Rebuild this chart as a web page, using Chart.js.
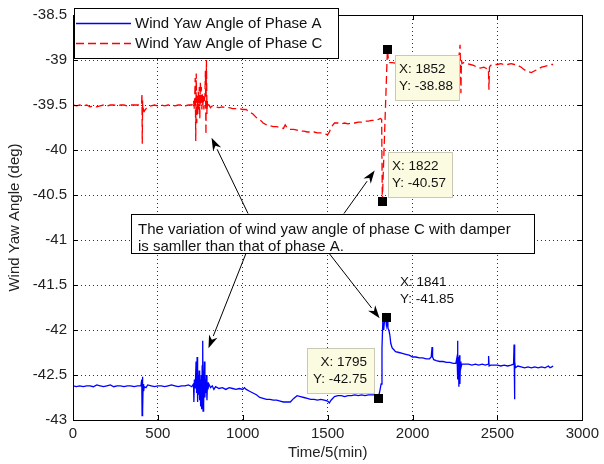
<!DOCTYPE html>
<html>
<head>
<meta charset="utf-8">
<script src="https://cdn.jsdelivr.net/npm/chart.js@4.4.1/dist/chart.umd.min.js"></script>
<style>
html,body{margin:0;padding:0;background:#fff;}
#wrap{width:604px;height:464px;}
</style>
</head>
<body>
<div id="wrap"><canvas id="c" width="604" height="464"></canvas></div>
<script>
// ---------- DATA ----------
const seriesNames = ['Wind Yaw Angle of Phase A', 'Wind Yaw Angle of Phase C'];
const xTicks = [0, 500, 1000, 1500, 2000, 2500, 3000];
const yTicks = [-43, -42.5, -42, -41.5, -41, -40.5, -40, -39.5, -39, -38.5];

const timeA = [0,20,40,60,80,100,120,140,160,180,200,220,240,260,280,300,320,340,360,380,400,405,407,409,411,413,416,420,430,440,460,480,500,520,540,560,580,600,620,640,660,680,700,710,712,715,720,725,728,731,734,737,740,743,746,749,752,755,758,761,764,766,768,771,774,777,780,783,786,789,792,795,800,810,820,830,840,860,880,900,920,940,960,980,1000,1010,1020,1040,1060,1080,1100,1120,1140,1160,1180,1200,1220,1240,1260,1280,1300,1320,1340,1360,1380,1400,1420,1440,1460,1480,1500,1510,1520,1540,1560,1580,1600,1620,1640,1660,1680,1700,1720,1740,1760,1780,1795,1805,1815,1820,1825,1830,1835,1841,1846,1850,1855,1860,1866,1872,1880,1890,1900,1920,1940,1960,1980,2000,2020,2040,2060,2080,2100,2110,2115,2118,2125,2140,2160,2180,2200,2220,2240,2255,2262,2265,2267,2270,2273,2276,2279,2282,2285,2290,2310,2330,2350,2370,2390,2410,2430,2445,2448,2451,2460,2480,2500,2520,2540,2560,2580,2595,2598,2600,2603,2606,2620,2640,2660,2680,2700,2720,2740,2760,2780,2800,2810,2820,2828];
const angleA = [-42.62,-42.63,-42.62,-42.63,-42.62,-42.62,-42.63,-42.61,-42.62,-42.63,-42.62,-42.61,-42.63,-42.62,-42.62,-42.63,-42.62,-42.62,-42.63,-42.62,-42.62,-42.55,-42.95,-42.52,-42.9,-42.6,-42.68,-42.63,-42.64,-42.61,-42.62,-42.63,-42.62,-42.62,-42.63,-42.62,-42.61,-42.62,-42.63,-42.62,-42.62,-42.61,-42.63,-42.6,-42.8,-42.55,-42.65,-42.35,-42.7,-42.3,-42.8,-42.5,-42.72,-42.45,-42.78,-42.55,-42.85,-42.5,-42.88,-42.4,-42.12,-42.9,-42.45,-42.82,-42.35,-42.75,-42.55,-42.7,-42.5,-42.78,-42.58,-42.66,-42.6,-42.64,-42.62,-42.66,-42.63,-42.65,-42.64,-42.66,-42.64,-42.65,-42.66,-42.65,-42.66,-42.64,-42.66,-42.68,-42.7,-42.72,-42.75,-42.76,-42.77,-42.77,-42.78,-42.78,-42.79,-42.8,-42.8,-42.8,-42.76,-42.73,-42.74,-42.75,-42.76,-42.77,-42.77,-42.78,-42.77,-42.78,-42.79,-42.81,-42.78,-42.74,-42.73,-42.73,-42.74,-42.73,-42.73,-42.72,-42.73,-42.72,-42.73,-42.72,-42.72,-42.72,-42.75,-42.7,-42.6,-42.2,-41.9,-42.0,-41.9,-41.85,-41.95,-41.9,-41.98,-42.0,-42.05,-42.15,-42.2,-42.22,-42.24,-42.25,-42.26,-42.27,-42.28,-42.3,-42.3,-42.31,-42.31,-42.32,-42.32,-42.3,-42.19,-42.3,-42.33,-42.34,-42.35,-42.35,-42.36,-42.36,-42.37,-42.37,-42.3,-42.12,-42.55,-42.3,-42.63,-42.28,-42.6,-42.35,-42.42,-42.38,-42.38,-42.38,-42.39,-42.38,-42.39,-42.38,-42.39,-42.38,-42.29,-42.4,-42.39,-42.39,-42.39,-42.4,-42.39,-42.4,-42.39,-42.38,-42.16,-42.77,-42.35,-42.42,-42.4,-42.41,-42.42,-42.41,-42.42,-42.41,-42.42,-42.41,-42.42,-42.4,-42.42,-42.41,-42.4];

const timeC = [0,20,40,60,80,100,120,140,160,180,200,220,240,260,280,300,320,340,360,380,400,404,406,408,410,412,416,420,430,440,460,480,500,520,540,560,580,600,620,640,660,680,700,705,710,715,720,723,726,729,732,735,738,741,744,747,750,753,756,759,762,765,768,771,774,777,780,783,786,789,792,795,800,810,820,840,860,880,900,920,940,960,980,1000,1020,1040,1060,1080,1100,1120,1140,1160,1180,1200,1220,1240,1250,1260,1280,1300,1320,1340,1360,1380,1400,1420,1440,1460,1480,1500,1510,1520,1540,1560,1580,1600,1620,1640,1660,1680,1700,1720,1740,1760,1780,1800,1810,1818,1822,1852,1858,1865,1880,1920,1980,2040,2100,2160,2220,2260,2270,2280,2285,2288,2291,2300,2320,2340,2360,2380,2400,2420,2440,2447,2450,2453,2460,2480,2500,2520,2540,2560,2580,2600,2620,2640,2660,2680,2700,2720,2740,2760,2780,2800,2820,2828];
const angleC = [-39.5,-39.51,-39.5,-39.51,-39.5,-39.52,-39.51,-39.52,-39.51,-39.5,-39.51,-39.5,-39.5,-39.51,-39.5,-39.5,-39.51,-39.5,-39.5,-39.5,-39.5,-39.5,-39.37,-39.93,-39.45,-39.6,-39.55,-39.57,-39.54,-39.52,-39.51,-39.5,-39.51,-39.5,-39.51,-39.5,-39.5,-39.51,-39.5,-39.5,-39.51,-39.5,-39.5,-39.48,-39.45,-39.55,-39.2,-39.9,-39.15,-39.7,-39.4,-39.6,-39.35,-39.55,-39.3,-39.65,-39.25,-39.5,-39.3,-39.55,-39.38,-39.5,-39.4,-39.55,-39.45,-39.4,-39.12,-39.83,-39.0,-39.6,-39.45,-39.5,-39.5,-39.53,-39.51,-39.52,-39.53,-39.52,-39.53,-39.53,-39.54,-39.54,-39.54,-39.55,-39.55,-39.58,-39.6,-39.64,-39.66,-39.7,-39.72,-39.73,-39.74,-39.74,-39.75,-39.76,-39.72,-39.75,-39.77,-39.77,-39.78,-39.79,-39.79,-39.8,-39.8,-39.8,-39.81,-39.81,-39.82,-39.83,-39.8,-39.75,-39.7,-39.7,-39.71,-39.7,-39.71,-39.7,-39.7,-39.69,-39.69,-39.68,-39.68,-39.67,-39.67,-39.66,-39.65,-39.66,-40.57,-38.88,-39.0,-39.03,-39.03,-39.04,-39.03,-39.04,-39.03,-39.04,-39.03,-39.02,-39.03,-38.83,-39.37,-39.0,-39.04,-39.03,-39.04,-39.05,-39.06,-39.08,-39.09,-39.08,-39.1,-39.1,-39.33,-39.08,-39.06,-39.05,-39.05,-39.04,-39.05,-39.05,-39.04,-39.05,-39.06,-39.08,-39.11,-39.13,-39.14,-39.12,-39.1,-39.08,-39.07,-39.06,-39.05,-39.05];

// data tips (value read-outs)
const tipX = [1852, 1822, 1841, 1795];
const tipY = [-38.88, -40.57, -41.85, -42.75];

const noteLines = ['The variation of wind yaw angle of phase C with damper', 'is samller than that of phase A.'];
const xTitle = 'Time/5(min)';
const yTitle = 'Wind Yaw Angle (deg)';

// ---------- CHART ----------
const FONT = '"Liberation Sans", Arial, sans-serif';
const pts = (xs, ys) => xs.map((x, i) => ({x: x, y: ys[i]}));

// annotation geometry in data units
const noteBox = {x1: 344, x2: 2715, y1: -40.706, y2: -41.149};
const arrows = [
  {tx: 1031, ty: -40.706, hx: 816, hy: -39.863},
  {tx: 1596, ty: -40.706, hx: 1777, hy: -40.229},
  {tx: 1019, ty: -41.149, hx: 798, hy: -42.202},
  {tx: 1509, ty: -41.149, hx: 1806, hy: -41.869}
];
const tipStyle = [
  {dx: 8, dy: 6, w: 64, h: 45, box: true, align: 'left'},
  {dx: 6, dy: -49, w: 64, h: 45, box: true, align: 'left'},
  {dx: 10, dy: -49, w: 64, h: 45, box: false, align: 'left'},
  {dx: -71, dy: -50, w: 67, h: 45, box: true, align: 'right'}
];

function arrow(ctx, x1, y1, x2, y2) {
  const a = Math.atan2(y2 - y1, x2 - x1);
  const L = 13, W = 4.5;
  const bx = x2 - L * Math.cos(a), by = y2 - L * Math.sin(a);
  ctx.beginPath();
  ctx.moveTo(x1, y1);
  ctx.lineTo(bx, by);
  ctx.stroke();
  const mx = x2 - (L * 0.7) * Math.cos(a), my = y2 - (L * 0.7) * Math.sin(a);
  ctx.beginPath();
  ctx.moveTo(x2, y2);
  ctx.lineTo(bx - W * Math.sin(a), by + W * Math.cos(a));
  ctx.lineTo(mx, my);
  ctx.lineTo(bx + W * Math.sin(a), by - W * Math.cos(a));
  ctx.closePath();
  ctx.fill();
}

const deco = {
  id: 'deco',
  afterDraw(chart) {
    const ctx = chart.ctx, ca = chart.chartArea;
    const xs = chart.scales.x, ys = chart.scales.y;
    ctx.save();
    // frame + inward ticks
    ctx.strokeStyle = '#000';
    ctx.lineWidth = 1;
    ctx.strokeRect(Math.round(ca.left) + 0.5, Math.round(ca.top) + 0.5, Math.round(ca.right - ca.left), Math.round(ca.bottom - ca.top));
    ctx.beginPath();
    xTicks.forEach(v => {
      const p = Math.round(xs.getPixelForValue(v)) + 0.5;
      ctx.moveTo(p, ca.bottom); ctx.lineTo(p, ca.bottom - 5);
      ctx.moveTo(p, ca.top); ctx.lineTo(p, ca.top + 5);
    });
    yTicks.forEach(v => {
      const p = Math.round(ys.getPixelForValue(v)) + 0.5;
      ctx.moveTo(ca.left, p); ctx.lineTo(ca.left + 5, p);
      ctx.moveTo(ca.right, p); ctx.lineTo(ca.right - 5, p);
    });
    ctx.stroke();

    // data tips
    ctx.font = '13.5px ' + FONT;
    ctx.textBaseline = 'middle';
    tipX.forEach((vx, i) => {
      const s = tipStyle[i];
      const px = xs.getPixelForValue(vx), py = ys.getPixelForValue(tipY[i]);
      const bx = Math.round(px + s.dx), by = Math.round(py + s.dy);
      if (s.box) {
        ctx.fillStyle = '#fbfbe2';
        ctx.fillRect(bx, by, s.w, s.h);
        ctx.strokeStyle = '#c9c9b5';
        ctx.strokeRect(bx + 0.5, by + 0.5, s.w, s.h);
      }
      ctx.fillStyle = '#111';
      ctx.textAlign = s.align;
      const tx = s.align === 'left' ? bx + 4 : bx + s.w - 7;
      ctx.fillText('X: ' + vx, tx, by + 14);
      ctx.fillText('Y: ' + tipY[i].toFixed(2), tx, by + 31);
    });
    // black square markers on top
    ctx.fillStyle = '#000';
    tipX.forEach((vx, i) => {
      const px = xs.getPixelForValue(vx), py = ys.getPixelForValue(tipY[i]);
      ctx.fillRect(Math.round(px) - 4, Math.round(py) - 4, 9, 9);
    });

    // arrows
    ctx.strokeStyle = '#000';
    ctx.fillStyle = '#000';
    ctx.lineWidth = 1;
    arrows.forEach(a => arrow(ctx, xs.getPixelForValue(a.tx), ys.getPixelForValue(a.ty), xs.getPixelForValue(a.hx), ys.getPixelForValue(a.hy)));

    // note box
    const nx1 = Math.round(xs.getPixelForValue(noteBox.x1)), nx2 = Math.round(xs.getPixelForValue(noteBox.x2));
    const ny1 = Math.round(ys.getPixelForValue(noteBox.y1)), ny2 = Math.round(ys.getPixelForValue(noteBox.y2));
    ctx.fillStyle = '#fff';
    ctx.fillRect(nx1, ny1, nx2 - nx1, ny2 - ny1);
    ctx.strokeStyle = '#000';
    ctx.strokeRect(nx1 + 0.5, ny1 + 0.5, nx2 - nx1, ny2 - ny1);
    ctx.fillStyle = '#111';
    ctx.font = '15px ' + FONT;
    ctx.textAlign = 'left';
    ctx.fillText(noteLines[0], nx1 + 7, ny1 + 16);
    ctx.fillText(noteLines[1], nx1 + 7, ny1 + 33);

    // legend
    const lx = 74, ly = 8, lw = 264, lh = 50;
    ctx.fillStyle = '#fff';
    ctx.fillRect(lx, ly, lw, lh);
    ctx.strokeStyle = '#000';
    ctx.strokeRect(lx + 0.5, ly + 0.5, lw, lh);
    const ds = chart.data.datasets;
    [0, 1].forEach(k => {
      const yy = ly + 15.5 + k * 20;
      ctx.strokeStyle = ds[k].borderColor;
      ctx.lineWidth = 1.3;
      ctx.setLineDash(ds[k].borderDash || []);
      ctx.beginPath(); ctx.moveTo(lx + 2, yy); ctx.lineTo(lx + 57, yy); ctx.stroke();
      ctx.setLineDash([]);
      ctx.fillStyle = '#111';
      ctx.font = '15px ' + FONT;
      ctx.textAlign = 'left';
      ctx.fillText(ds[k].label, lx + 61, yy);
    });
    ctx.restore();
  }
};

new Chart(document.getElementById('c'), {
  type: 'line',
  data: {
    datasets: [
      {label: seriesNames[0], data: pts(timeA, angleA), borderColor: '#0000ff', borderWidth: 1.3, pointRadius: 0, tension: 0},
      {label: seriesNames[1], data: pts(timeC, angleC), borderColor: '#ff0000', borderWidth: 1.3, borderDash: [8, 4], pointRadius: 0, tension: 0}
    ]
  },
  options: {
    responsive: false,
    animation: false,
    events: [],
    layout: {padding: {top: 14, right: 16, left: 0, bottom: 0}},
    plugins: {legend: {display: false}, tooltip: {enabled: false}},
    scales: {
      x: {
        type: 'linear', min: 0, max: 3000,
        afterBuildTicks: s => { s.ticks = xTicks.map(v => ({value: v})); },
        afterFit: s => { s.height = 44; },
        ticks: {color: '#222', font: {family: FONT, size: 15}, padding: 5, maxRotation: 0, callback: v => String(v)},
        grid: {color: '#333', lineWidth: 1, drawTicks: false},
        border: {display: false, dash: [1, 3]},
        title: {display: true, text: xTitle, color: '#222', font: {family: FONT, size: 15}, padding: {top: 0, bottom: 2}}
      },
      y: {
        type: 'linear', min: -43, max: -38.5,
        afterBuildTicks: s => { s.ticks = yTicks.map(v => ({value: v})); },
        afterFit: s => { s.width = 73; },
        ticks: {color: '#222', font: {family: FONT, size: 15}, padding: 6, callback: v => String(v)},
        grid: {color: '#333', lineWidth: 1, drawTicks: false},
        border: {display: false, dash: [1, 3]},
        title: {display: true, text: yTitle, color: '#222', font: {family: FONT, size: 15}, padding: {top: 6, bottom: 0}}
      }
    }
  },
  plugins: [deco]
});
</script>
</body>
</html>
